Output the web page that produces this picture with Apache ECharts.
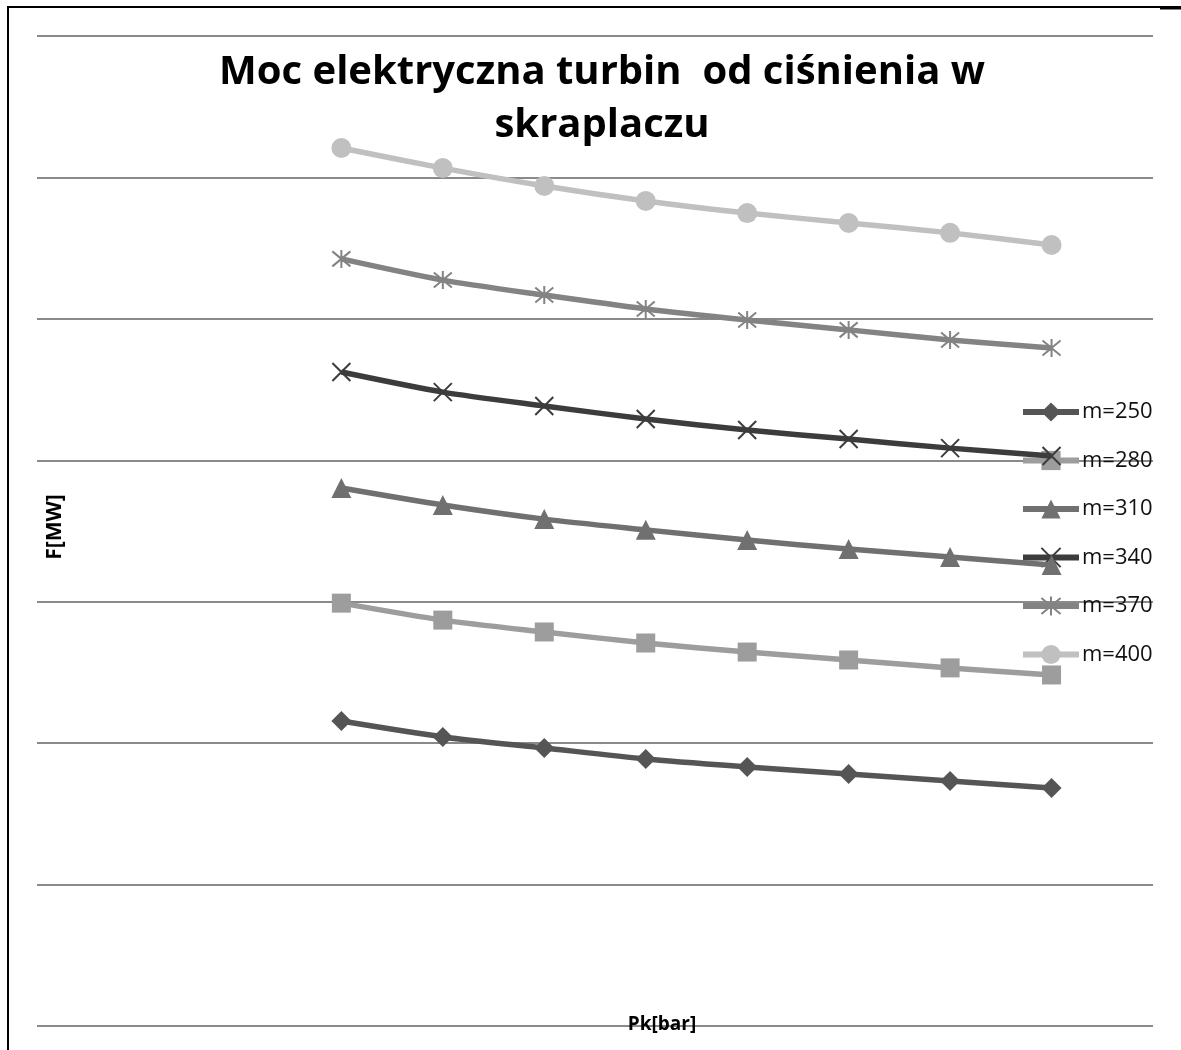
<!DOCTYPE html>
<html>
<head>
<meta charset="utf-8">
<script src="https://cdn.jsdelivr.net/npm/echarts@6/dist/echarts.min.js"></script>
<style>html,body{margin:0;padding:0;background:#fff;}#c{width:1181px;height:1050px;}</style>
</head>
<body>
<div id="c"></div>
<script>
const xPos = [3, 4, 5, 6, 7, 8, 9, 10];
const seriesNames = ['m=250', 'm=280', 'm=310', 'm=340', 'm=370', 'm=400'];
const m250 = [107.8, 102.2, 98.3, 94.4, 91.6, 89.1, 86.6, 84.1];
const m280 = [149.5, 143.5, 139.3, 135.4, 132.2, 129.4, 126.6, 124.1];
const m310 = [190.2, 184.2, 179.2, 175.4, 171.8, 168.6, 165.8, 163.0];
const m340 = [231.2, 224.1, 219.2, 214.6, 210.7, 207.5, 204.3, 201.5];
const m370 = [271.2, 263.7, 258.4, 253.5, 249.6, 246.1, 242.5, 239.7];
const m400 = [310.4, 303.3, 297.0, 291.7, 287.4, 283.9, 280.4, 276.1];
const allValues = [m250, m280, m310, m340, m370, m400];
const colors = ['#555555', '#9d9d9d', '#707070', '#3c3c3c', '#838383', '#c0c0c0'];
const symbols = ['diamond', 'rect', 'triangle', 'path://M0,0L20,20M20,0L0,20', 'path://M0,0L20,20M20,0L0,20M10,-2L10,22', 'circle'];
const symbolSizes = [20, 19, 20, 18, 18, 20];

const chart = echarts.init(document.getElementById('c'));
const series = seriesNames.map((name, i) => {
  const isStroke = i === 3 || i === 4;
  return {
    name: name,
    type: 'line',
    smooth: 0.25,
    data: xPos.map((x, j) => [x, allValues[i][j]]),
    symbol: symbols[i],
    symbolSize: symbolSizes[i],
    showSymbol: true,
    lineStyle: { color: colors[i], width: 5.5 },
    itemStyle: isStroke
      ? { color: colors[i], borderColor: colors[i], borderWidth: 2 }
      : { color: colors[i], borderWidth: 0 },
    emphasis: { disabled: true },
    z: 2 + i
  };
});

chart.setOption({
  animation: false,
  backgroundColor: '#ffffff',
  title: {
    text: 'Moc elektryczna turbin  od ciśnienia w\nskraplaczu',
    left: 597,
    top: 41,
    textAlign: 'center',
    textStyle: { fontFamily: 'Open Sans', fontWeight: 'bold', fontSize: 40, lineHeight: 53, color: '#000' }
  },
  grid: { left: 37, right: 28, top: 36, bottom: 24, containLabel: false },
  xAxis: {
    type: 'value', min: 0, max: 11,
    axisLine: { show: false }, axisTick: { show: false }, axisLabel: { show: false },
    splitLine: { show: false }
  },
  yAxis: {
    type: 'value', min: 0, max: 350, interval: 50,
    axisLine: { show: false }, axisTick: { show: false }, axisLabel: { show: false },
    splitLine: { show: true, lineStyle: { color: '#8a8a8a', width: 2 } }
  },
  legend: {
    orient: 'vertical',
    left: 1020,
    top: 401,
    padding: 0,
    itemWidth: 56,
    itemHeight: 24,
    itemGap: 26.5,
    data: seriesNames,
    lineStyle: { width: 6 },
    textStyle: { fontFamily: 'Open Sans', fontSize: 22, lineHeight: 22, color: '#111', padding: [0, 0, 0, -2] }
  },
  graphic: [
    { type: 'line', shape: { x1: 8, y1: 7, x2: 8, y2: 1050 }, style: { stroke: '#000', lineWidth: 2 }, z: 100 },
    { type: 'line', shape: { x1: 7, y1: 7, x2: 1181, y2: 7 }, style: { stroke: '#000', lineWidth: 2 }, z: 100 },
    { type: 'line', shape: { x1: 1160, y1: 8, x2: 1181, y2: 8 }, style: { stroke: '#000', lineWidth: 3 }, z: 100 },
    { type: 'text', rotation: Math.PI / 2, style: { text: 'F[MW]', fontFamily: 'Open Sans', fontWeight: 'bold', fontSize: 21, fill: '#000', align: 'center', verticalAlign: 'middle' }, x: 55, y: 527, z: 100 },
    { type: 'text', x: 662, y: 1025, style: { text: 'Pk[bar]', fontFamily: 'Open Sans', fontWeight: 'bold', fontSize: 19, fill: '#000', align: 'center', verticalAlign: 'middle' }, z: 100 }
  ],
  series: series
});
</script>
</body>
</html>
